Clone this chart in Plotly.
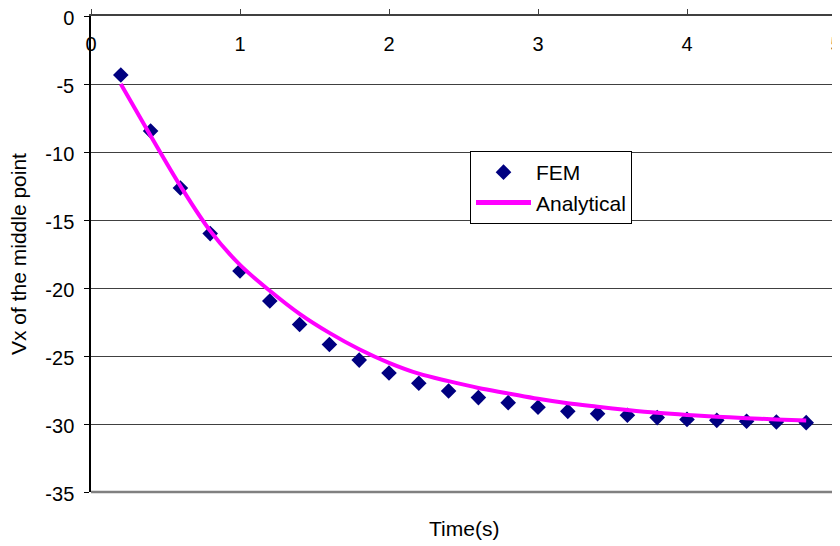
import plotly.graph_objects as go

# Data
time_fem = [0.2, 0.4, 0.6, 0.8, 1.0, 1.2, 1.4, 1.6, 1.8, 2.0, 2.2, 2.4,
            2.6, 2.8, 3.0, 3.2, 3.4, 3.6, 3.8, 4.0, 4.2, 4.4, 4.6, 4.8]
vx_fem = [-4.34, -8.46, -12.65, -16.0, -18.75, -20.96, -22.68, -24.15, -25.3, -26.25, -27.0, -27.57,
          -28.06, -28.43, -28.77, -29.07, -29.24, -29.36, -29.53, -29.66, -29.73, -29.8, -29.85, -29.9]

time_ana = [0.2, 0.4, 0.6, 0.8, 1.0, 1.2, 1.4, 1.6, 1.8, 2.0, 2.2, 2.4,
            2.6, 2.8, 3.0, 3.2, 3.4, 3.6, 3.8, 4.0, 4.2, 4.4, 4.6, 4.8]
vx_ana = [-5.0, -8.8, -12.5, -15.8, -18.3, -20.2, -21.9, -23.3, -24.5, -25.5, -26.3, -26.85,
          -27.35, -27.75, -28.15, -28.48, -28.73, -28.97, -29.18, -29.34, -29.46, -29.57, -29.66, -29.75]

x_ticks = [0, 1, 2, 3, 4, 5]
y_ticks = [0, -5, -10, -15, -20, -25, -30, -35]

FONT = "Liberation Sans, Arial, sans-serif"
FS = 20
FT = 21

# page body has an 8px default margin; compensate so plot area sits at x 91..836, y 16..492
OFF = 8
fig = go.Figure()
fig.add_trace(go.Scatter(
    x=time_fem, y=vx_fem, mode="markers", name="FEM",
    marker=dict(symbol="diamond", size=12, color="#000080", line=dict(width=0)),
))
fig.add_trace(go.Scatter(
    x=time_ana, y=vx_ana, mode="lines", name="Analytical",
    line=dict(color="#FF00FF", width=4, shape="spline"),
))

fig.update_layout(
    width=840 - OFF, height=546 - OFF,
    margin=dict(l=91 - OFF, r=4, t=16 - OFF, b=54, autoexpand=False),
    paper_bgcolor="white", plot_bgcolor="white",
    font=dict(family=FONT, size=FS, color="black"),
    showlegend=True,
    legend=dict(
        x=(470 - 91) / 745, y=(492 - 151) / 476, xanchor="left", yanchor="top",
        bgcolor="white", bordercolor="black", borderwidth=1,
        font=dict(family=FONT, size=FT, color="black"),
        tracegroupgap=0, itemsizing="constant", itemwidth=55,
    ),
    xaxis=dict(
        range=[0, 5], tickvals=x_ticks, ticktext=[str(v) for v in x_ticks],
        side="top", anchor="y", ticks="outside", ticklen=5, tickcolor="#404040",
        ticklabelstandoff=-50, ticklabeloverflow="allow",
        showline=True, linecolor="#404040", linewidth=1.5,
        showgrid=False, zeroline=False, automargin=False,
        tickfont=dict(family=FONT, size=FS),
    ),
    yaxis=dict(
        range=[-35, 0], tickvals=y_ticks, ticktext=[str(v) for v in y_ticks],
        ticks="outside", ticklen=5, tickcolor="black",
        ticklabelstandoff=6, ticklabelshift=2, ticklabeloverflow="allow",
        showline=True, linecolor="black", linewidth=1.5,
        showgrid=True, gridcolor="#404040", gridwidth=1,
        zeroline=False, automargin=False,
        tickfont=dict(family=FONT, size=FS),
    ),
    shapes=[
        dict(type="line", xref="paper", yref="paper", x0=1, x1=1, y0=0, y1=1,
             line=dict(color="#808080", width=2), layer="above"),
        dict(type="line", xref="paper", yref="paper", x0=0, x1=1, y0=0, y1=0,
             line=dict(color="#808080", width=2.5), layer="above"),
    ],
    annotations=[
        dict(text="Time(s)", xref="paper", yref="paper", x=0.5, y=(492 - 528) / 476,
             xanchor="center", yanchor="middle", showarrow=False,
             font=dict(family=FONT, size=FT)),
        dict(text="Vx of the middle point", xref="paper", yref="paper",
             x=(18 - 91) / 745, y=0.5, xanchor="center", yanchor="middle",
             textangle=-90, showarrow=False, font=dict(family=FONT, size=FT)),
    ],
)

fig.write_html("out.html")
